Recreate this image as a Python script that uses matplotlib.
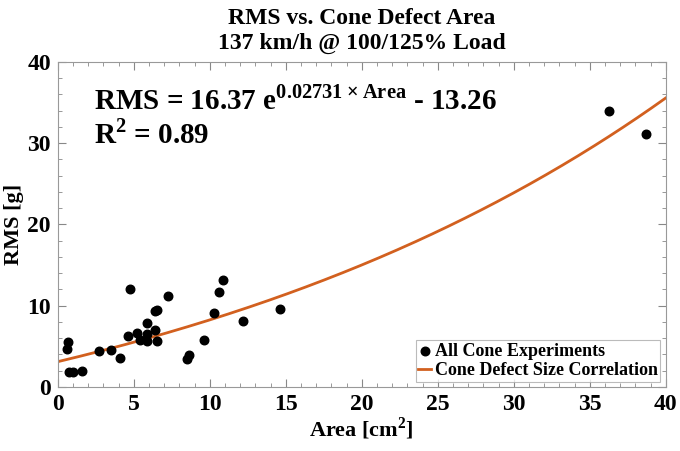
import numpy as np
import matplotlib
matplotlib.use("Agg")
import matplotlib.pyplot as plt
from matplotlib.ticker import MultipleLocator

# Datos
area = [0.68, 0.61, 0.74, 1.0, 1.6, 2.7, 3.53, 4.1, 4.65, 4.78, 5.2, 5.44,
        5.86, 5.86, 5.88, 6.38, 6.4, 6.55, 6.51, 7.24, 8.49, 8.66, 9.63,
        10.26, 10.59, 10.9, 12.2, 14.6, 36.3, 38.7]
rms = [5.58, 4.68, 1.88, 1.88, 1.97, 4.47, 4.55, 3.53, 6.28, 12.1, 6.65, 5.78,
       7.9, 6.56, 5.66, 6.97, 9.3, 9.5, 5.62, 11.2, 3.4, 3.94, 5.78,
       9.1, 11.65, 13.1, 8.08, 9.56, 33.9, 31.1]
coef_a, coef_b, coef_c = 16.37, 0.02731, -13.26

plt.rcParams['font.family'] = ['Liberation Serif', 'DejaVu Serif']
plt.rcParams['font.weight'] = 'bold'
plt.rcParams['mathtext.fontset'] = 'custom'
plt.rcParams['mathtext.rm'] = 'Liberation Serif:bold'
plt.rcParams['mathtext.bf'] = 'Liberation Serif:bold'

fig = plt.figure(figsize=(6.8, 4.51), dpi=100)
ax = fig.add_axes([0.085, 0.142, 0.894, 0.721])

xs = np.linspace(0, 40, 300)
ax.plot(xs, coef_a * np.exp(coef_b * xs) + coef_c, color='#d2601f', lw=2,
        label='Cone Defect Size Correlation', zorder=2)
ax.scatter(area, rms, s=38, color='black', label='All Cone Experiments', zorder=3)

ax.set_xlim(0, 40)
ax.set_ylim(0, 40)
ax.xaxis.set_major_locator(MultipleLocator(5))
ax.xaxis.set_minor_locator(MultipleLocator(1))
ax.yaxis.set_major_locator(MultipleLocator(10))
ax.yaxis.set_minor_locator(MultipleLocator(2))
ax.tick_params(which='both', direction='in', top=True, right=True, color='#888888',
               labelsize=17, pad=5)
ax.tick_params(which='major', length=6)
ax.tick_params(which='minor', length=3)
for s in ax.spines.values():
    s.set_color('#999999')

ax.set_xlabel('Area [cm$^2$]', fontsize=16, fontweight='bold', labelpad=0)
ax.set_ylabel('RMS [g]', fontsize=16, fontweight='bold', labelpad=2)
ax.set_title('RMS vs. Cone Defect Area\n137 km/h @ 100/125% Load', fontsize=17,
             fontweight='bold', pad=9, linespacing=1.25)

ax.text(2.4, 35.3, r'RMS = 16.37 e$^{0.02731\times\mathrm{Area}}$ - 13.26',
        fontsize=21, fontweight='bold', va='center')
ax.text(2.4, 31.1, r'R$^2$ = 0.89', fontsize=21, fontweight='bold', va='center')

h, l = ax.get_legend_handles_labels()
leg = ax.legend(h[::-1], l[::-1], loc='lower right', fontsize=13, frameon=True,
                fancybox=False, edgecolor='#aaaaaa', handlelength=0.7,
                handletextpad=0.2, borderpad=0.15, labelspacing=0.1,
                borderaxespad=0.3)
leg.get_frame().set_linewidth(0.8)

fig.savefig('out.png', dpi=100)
